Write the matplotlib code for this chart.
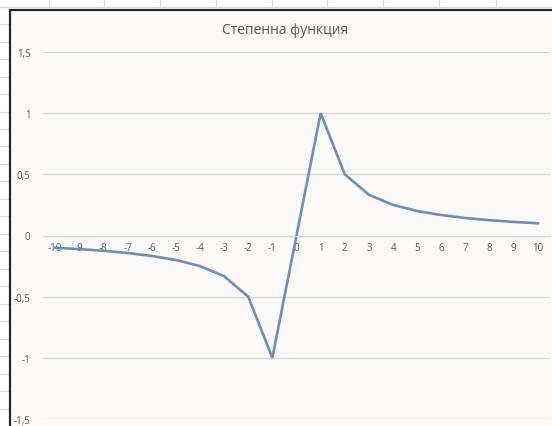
import matplotlib.pyplot as plt
from matplotlib.lines import Line2D
from matplotlib.patches import Rectangle

# power function y = 1/x (0 at x = 0)
x_vals = [-10, -9, -8, -7, -6, -5, -4, -3, -2, -1, 0, 1, 2, 3, 4, 5, 6, 7, 8, 9, 10]
y_vals = [-0.1, -0.111, -0.125, -0.143, -0.167, -0.2, -0.25, -0.333, -0.5, -1.0, 0.0,
          1.0, 0.5, 0.333, 0.25, 0.2, 0.167, 0.143, 0.125, 0.111, 0.1]
y_ticks = [-1.5, -1, -0.5, 0, 0.5, 1, 1.5]
y_labels = ['-1,5', '-1', '-0,5', '0', '0,5', '1', '1,5']
title = 'Степенна функция'

W, H = 552, 427
fig = plt.figure(figsize=(W / 100, H / 100), dpi=100)
fig.patch.set_facecolor('white')

# spreadsheet cell grid behind the chart
grid_c = '#DADADA'
for xc in [49, 104, 160, 216, 272, 327, 383, 439, 496]:
    fig.add_artist(Line2D([xc / W, xc / W], [1 - 8 / H, 1], color=grid_c, lw=0.8, zorder=-3))
for yr in [8, 25, 43, 60, 78, 95, 113, 130, 147, 165, 182, 200, 217, 235, 252,
           270, 287, 305, 322, 340, 357, 375, 392, 410]:
    fig.add_artist(Line2D([0, 9 / W], [1 - yr / H, 1 - yr / H], color=grid_c, lw=0.8, zorder=-3))
fig.add_artist(Line2D([0, 1], [1 - 8 / H, 1 - 8 / H], color=grid_c, lw=0.8, zorder=-3))

# chart panel
fig.add_artist(Rectangle((10 / W, -0.1), 1.2, 1 - 11 / H + 0.1,
                         facecolor='#FDF9F8', edgecolor='#262626', lw=1.6, zorder=-2))

ax = fig.add_axes([43 / W, 1 - 420 / H, (550 - 43) / W, (420 - 53) / H])
ax.set_facecolor('none')
ax.plot(x_vals, y_vals, color='#6A8EC0', lw=1.9, solid_joinstyle='miter')

ax.set_xlim(-10.5, 10.5)
ax.set_ylim(-1.5, 1.5)
ax.set_yticks(y_ticks)
ax.set_yticklabels(y_labels)
ax.set_xticks(x_vals)
ax.set_xticklabels([str(v) for v in x_vals])
ax.grid(axis='y', color='#DDD6D2', lw=1)
ax.set_axisbelow(True)
for s in ['top', 'right', 'left']:
    ax.spines[s].set_visible(False)
ax.spines['bottom'].set_position(('data', 0))
ax.spines['bottom'].set_color('#DDD6D2')
ax.tick_params(axis='both', length=0, labelsize=7, labelcolor='#595959')
ax.tick_params(axis='x', pad=5)
ax.tick_params(axis='y', pad=9)
for lb in ax.get_xticklabels() + ax.get_yticklabels():
    lb.set_family('Open Sans')

fig.text(285 / W, 1 - 30 / H, title, ha='center', va='center',
         fontsize=10, color='#595959', family='Open Sans')

fig.savefig('out.png', dpi=100)
